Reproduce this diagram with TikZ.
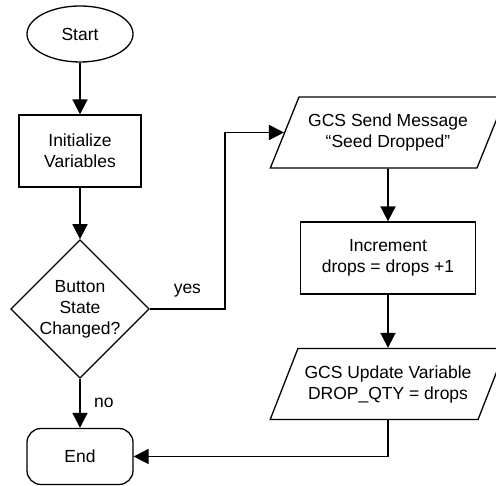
\documentclass[tikz,border=0pt]{standalone}
\usepackage{fontspec}
\setmainfont{Liberation Sans}
\usepackage{tikz}
\usetikzlibrary{arrows.meta}
\usetikzlibrary{shapes.geometric}

\tikzset{
    box/.style={draw, line width=1.3pt, align=center, minimum width=122pt, minimum height=72pt, inner sep=2pt},
    terminal/.style={draw, line width=1.3pt, align=center, minimum width=106pt, minimum height=56pt},
    decision/.style={draw, diamond, line width=1.3pt, align=center, minimum width=135pt, minimum height=134pt, inner sep=0pt},
    io/.style={draw, trapezium, trapezium left angle=56.5, trapezium right angle=123.5, trapezium stretches=true,
        line width=1.3pt, align=center, minimum width=236pt, minimum height=71pt, inner sep=1pt},
    flow/.style={->, line width=1.8pt}
}

\begin{document}
\begin{tikzpicture}[x=1pt, y=1pt, >={Triangle[length=15pt,width=15pt]},
        every node/.style={font=\fontsize{17.5}{21}\selectfont}]
        \useasboundingbox (0,0) rectangle (496,486);

        % left column
        \node [terminal, ellipse] (start) at (80,452) {Start};
        \node [box] (init) at (80,335) {Initialize\\Variables};
        \node [decision] (button) at (80,177) {Button\\State\\Changed?};
        \node [terminal, rounded corners=14pt] (end) at (80,29.5) {End};

        % right column
        \node [io] (send) at (388,353.5) {GCS Send Message\\``Seed Dropped''};
        \node [box, minimum width=175pt] (incr) at (388,228) {Increment\\drops = drops +1};
        \node [io] (update) at (388,102) {GCS Update Variable\\DROP\_QTY = drops};

        \draw [flow] (start) -- (init);
        \draw [flow] (init) -- (button);
        \draw [flow] (button.east) -- node [above, yshift=8pt] {yes} ++(75,0) |- (send);
        \draw [flow] (button.south) -- node [right, xshift=10pt] {no} (end.north);
        \draw [flow] (send) -- (incr);
        \draw [flow] (incr) -- (update);
        \draw [flow] (update.south) |- (end.east);
    \end{tikzpicture}
\end{document}
